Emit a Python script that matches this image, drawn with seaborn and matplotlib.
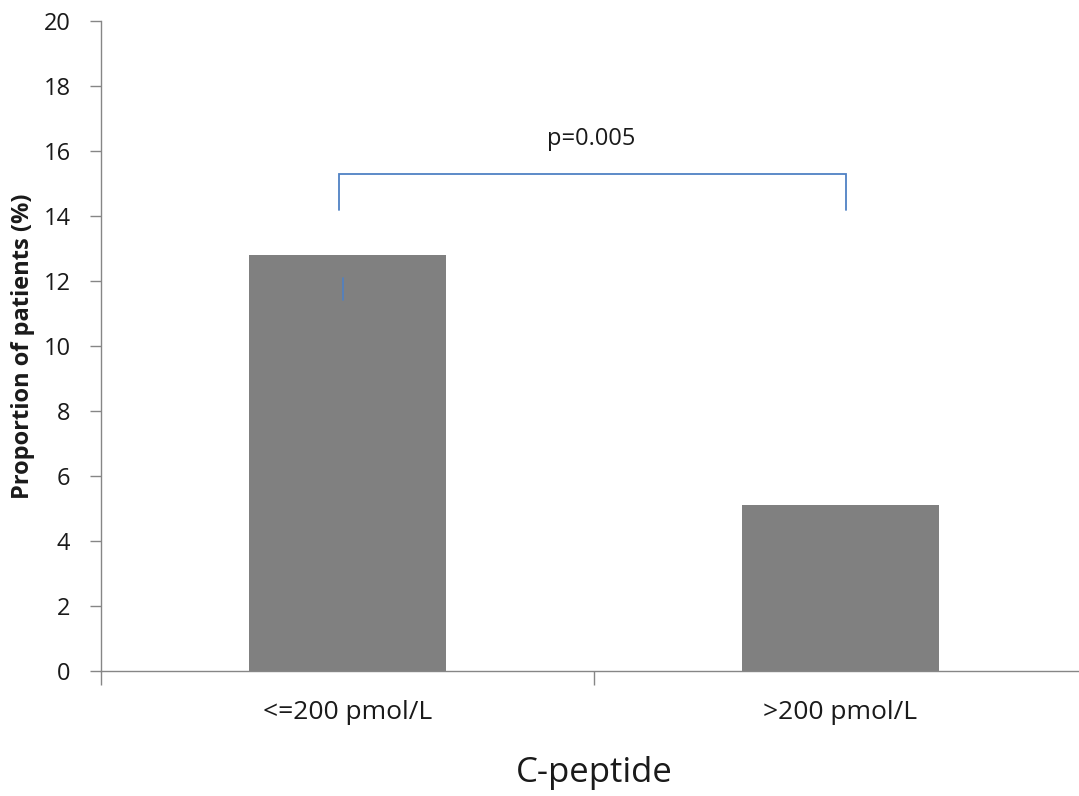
import matplotlib
matplotlib.use("Agg")
import matplotlib.pyplot as plt
import seaborn as sns
import pandas as pd

categories = ["<=200 pmol/L", ">200 pmol/L"]
proportions = [12.8, 5.1]
y_ticks = [0, 2, 4, 6, 8, 10, 12, 14, 16, 18, 20]
p_label = "p=0.005"

sns.set_style("white")
plt.rcParams["font.family"] = ["Open Sans", "DejaVu Sans"]

df = pd.DataFrame({"group": categories, "pct": proportions})

fig = plt.figure(figsize=(10.79, 7.96), dpi=100)
ax = fig.add_axes([101 / 1079, 125 / 796, 986 / 1079, 650 / 796])

sns.barplot(data=df, x="group", y="pct", color="#808080", saturation=1,
            width=0.4, ax=ax, edgecolor="none")

ax.set_xlim(-0.5, 1.5)
ax.set_ylim(0, 20)
ax.set_yticks(y_ticks)
ax.set_yticklabels([str(t) for t in y_ticks], fontsize=17, color="#1a1a1a")
ax.set_xticks([0, 1])
ax.set_xticklabels(categories, fontsize=19, color="#1a1a1a")

# category boundary ticks on the x axis
ax.set_xticks([-0.5, 0.5, 1.5], minor=True)
ax.tick_params(left=True, bottom=True, which="both")
ax.tick_params(axis="x", which="major", length=0, pad=21)
ax.tick_params(axis="x", which="minor", length=10, width=1, color="#868686", direction="out")
ax.tick_params(axis="y", which="major", length=8, width=1, color="#868686", direction="out", pad=14)

for side in ["top", "right"]:
    ax.spines[side].set_visible(False)
for side in ["left", "bottom"]:
    ax.spines[side].set_color("#868686")
    ax.spines[side].set_linewidth(1)

ax.set_xlabel("C-peptide", fontsize=25, color="#1a1a1a", labelpad=22)
ax.set_ylabel("Proportion of patients (%)", fontsize=17, fontweight="bold",
              color="#1a1a1a", labelpad=6)

# significance bracket between the two groups
bracket_color = "#4f81c4"
left_x, right_x = -0.017, 1.011
top_y, foot_y = 15.3, 14.2
ax.plot([left_x, left_x, right_x, right_x], [foot_y, top_y, top_y, foot_y],
        color=bracket_color, lw=1.3, solid_joinstyle="miter", clip_on=False, zorder=5)
ax.plot([-0.009, -0.009], [11.42, 12.09], color=bracket_color, lw=1.2, zorder=5)
ax.text(0.5 - 0.006, 16.0, p_label, ha="center", va="bottom", fontsize=17, color="#1a1a1a")

fig.savefig("out.png", dpi=100)
